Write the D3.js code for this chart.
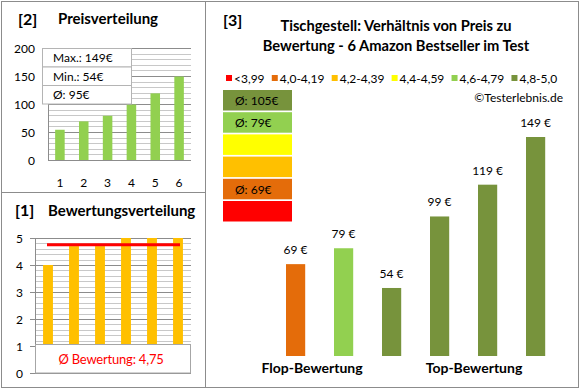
<!DOCTYPE html>
<html><head><meta charset="utf-8">
<script src="https://cdn.jsdelivr.net/npm/d3@7"></script>
<style>body{margin:0;background:#fff}svg{display:block}text{font-family:Lato,"Open Sans",sans-serif}</style>
</head><body><svg id="c" width="580" height="390"></svg>
<script>
// ---- data ----
const productIds = ["1","2","3","4","5","6"];
const prices = [54,69,79,99,119,149];
const ratings = [4.0,4.7,4.7,5.0,5.0,5.0];
const avgRating = 4.75;
const avgRatingLabel = "Ø Bewertung: 4,75";
const priceTicks = [0,50,100,150,200];
const ratingTicks = [0,1,2,3,4,5];
const priceStats = ["Max.: 149€","Min.: 54€","Ø: 95€"];
const mainProducts = ["P1","P2","P3","P4","P5","P6"];
const mainPrices = [69,79,54,99,119,149];
const mainColors = ["#E46C0A","#92D050","#77933C","#77933C","#77933C","#77933C"];
const legendLabels = ["<3,99","4,0-4,19","4,2-4,39","4,4-4,59","4,6-4,79","4,8-5,0"];
const legendColors = ["#FF0000","#E46C0A","#FFC000","#FFFF00","#92D050","#77933C"];
const avgBoxLabels = ["","Ø: 69€","","","Ø: 79€","Ø: 105€"]; // same order as legend
const groupLabels = ["Flop-Bewertung","Top-Bewertung"];
const titles = ["[2]","Preisverteilung","[1]","Bewertungsverteilung","[3]"];
const mainTitle = ["Tischgestell: Verhältnis von Preis zu","Bewertung - 6 Amazon Bestseller im Test"];
const copyright = "©Testerlebnis.de";

const svg = d3.select("#c");
const frame = "#8c8c8c";

// frames
svg.append("rect").attr("x",1.5).attr("y",1.5).attr("width",204).attr("height",386).attr("fill","none").attr("stroke",frame);
svg.append("line").attr("x1",1.5).attr("x2",205.5).attr("y1",192.5).attr("y2",192.5).attr("stroke",frame);
svg.append("rect").attr("x",205.5).attr("y",1.5).attr("width",373).attr("height",386).attr("fill","none").attr("stroke",frame);

// ---------- Panel 2: Preisverteilung ----------
svg.append("text").attr("x",18).attr("y",25).attr("font-size",16).attr("font-weight","bold").text(titles[0]);
svg.append("text").attr("x",58).attr("y",24).attr("font-size",15).attr("font-weight","bold").text(titles[1]);

const x2 = d3.scaleBand().domain(productIds).range([48,191]).paddingInner(0.6).paddingOuter(0.3);
const y2 = d3.scaleLinear().domain([0,200]).range([160,48]);
const g2 = svg.append("g");
g2.selectAll("line.minor").data(y2.ticks(20)).join("line")
  .attr("x1",48).attr("x2",191).attr("y1",d=>Math.round(y2(d))+0.5).attr("y2",d=>Math.round(y2(d))+0.5)
  .attr("stroke",d=>d%50===0?"#8c8c8c":"#c8c8c8");
g2.append("line").attr("x1",48.5).attr("x2",48.5).attr("y1",48).attr("y2",160.5).attr("stroke","#8c8c8c");
g2.selectAll("rect.bar").data(prices).join("rect")
  .attr("x",(d,i)=>x2(productIds[i])).attr("width",x2.bandwidth())
  .attr("y",d=>y2(d)).attr("height",d=>y2(0)-y2(d)).attr("fill","#92D050");
g2.selectAll("text.yt").data(priceTicks).join("text")
  .attr("x",35).attr("y",d=>y2(d)+4.5).attr("text-anchor","end").attr("font-size",12).text(d=>d);
g2.selectAll("text.xt").data(productIds).join("text")
  .attr("x",d=>x2(d)+x2.bandwidth()/2).attr("y",187).attr("text-anchor","middle").attr("font-size",12).text(d=>d);
// stats box
const sb = g2.append("g");
sb.selectAll("rect").data(priceStats).join("rect")
  .attr("x",42.5).attr("y",(d,i)=>48.5+i*18.5).attr("width",89).attr("height",18.5)
  .attr("fill","#fff").attr("stroke","#b4b4b4");
sb.selectAll("text").data(priceStats).join("text")
  .attr("x",53).attr("y",(d,i)=>62+i*18.5).attr("font-size",12).text(d=>d);

// ---------- Panel 1: Bewertungsverteilung ----------
svg.append("text").attr("x",15).attr("y",216).attr("font-size",16).attr("font-weight","bold").text(titles[2]);
svg.append("text").attr("x",48).attr("y",216).attr("font-size",15).attr("font-weight","bold").text(titles[3]);

const x1 = d3.scaleBand().domain(productIds).range([35,191]).paddingInner(0.62).paddingOuter(0.31);
const y1 = d3.scaleLinear().domain([0,5]).range([373,238]);
const g1 = svg.append("g");
const isInt = d=>Math.abs(d-Math.round(d))<1e-6;
g1.selectAll("line.minor").data(y1.ticks(25)).join("line")
  .attr("x1",d=>isInt(d)?30:35).attr("x2",191)
  .attr("y1",d=>Math.round(y1(d))+0.5).attr("y2",d=>Math.round(y1(d))+0.5)
  .attr("stroke",d=>isInt(d)?"#8c8c8c":"#c8c8c8");
g1.append("line").attr("x1",35.5).attr("x2",35.5).attr("y1",238).attr("y2",373.5).attr("stroke","#8c8c8c");
g1.selectAll("rect.bar").data(ratings).join("rect")
  .attr("x",(d,i)=>x1(productIds[i])).attr("width",x1.bandwidth())
  .attr("y",d=>y1(d)).attr("height",d=>y1(0)-y1(d)).attr("fill","#FFC000");
g1.append("line").attr("x1",x1(productIds[0])+x1.bandwidth()/2-1).attr("x2",x1(productIds[5])+x1.bandwidth()/2+2)
  .attr("y1",y1(avgRating)).attr("y2",y1(avgRating)).attr("stroke","#FF0000").attr("stroke-width",3);
g1.selectAll("text.yt").data(ratingTicks).join("text")
  .attr("x",23).attr("y",d=>y1(d)+4.5).attr("text-anchor","end").attr("font-size",12).text(d=>d);
g1.append("rect").attr("x",35.5).attr("y",344.5).attr("width",155).attr("height",28.5).attr("fill","#fff").attr("stroke","#a6a6a6");
g1.append("text").attr("x",111).attr("y",364).attr("text-anchor","middle").attr("font-size",13).attr("letter-spacing",-0.2).attr("fill","#FF0000").text(avgRatingLabel);

// ---------- Panel 3 ----------
svg.append("text").attr("x",223).attr("y",26).attr("font-size",16).attr("font-weight","bold").text(titles[4]);
svg.selectAll("text.mt").data(mainTitle).join("text")
  .attr("x",396).attr("y",(d,i)=>31+i*19.5).attr("text-anchor","middle").attr("font-size",14.7).attr("font-weight","bold").text(d=>d);

// legend row
const lg = svg.append("g");
let lx = 226;
legendLabels.forEach((lab,i)=>{
  lg.append("rect").attr("x",lx).attr("y",75).attr("width",6).attr("height",6).attr("fill",legendColors[i]);
  const t = lg.append("text").attr("x",lx+8).attr("y",83).attr("font-size",12).text(lab);
  lx += 8 + t.node().getComputedTextLength() + 7.2;
});
svg.append("text").attr("x",563).attr("y",102).attr("text-anchor","end").attr("font-size",12).text(copyright);

// average boxes (top: best rating)
const boxOrder = d3.range(legendColors.length).reverse();
const bg = svg.append("g");
boxOrder.forEach((ci,row)=>{
  bg.append("rect").attr("x",223).attr("y",90+row*22.2).attr("width",69).attr("height",20.5).attr("fill",legendColors[ci]);
  if (avgBoxLabels[ci]) bg.append("text").attr("x",235).attr("y",90+row*22.2+15).attr("font-size",12).text(avgBoxLabels[ci]);
});

const x3 = d3.scaleBand().domain(mainProducts).range([271.6,559.6]).paddingInner(0.6).paddingOuter(0.3);
const y3 = d3.scaleLinear().domain([11.2,149]).range([356,137]);
const g3 = svg.append("g");
g3.selectAll("rect").data(mainPrices).join("rect")
  .attr("x",(d,i)=>x3(mainProducts[i])).attr("width",x3.bandwidth())
  .attr("y",d=>y3(d)).attr("height",d=>y3(11.2)-y3(d)).attr("fill",(d,i)=>mainColors[i]);
g3.selectAll("text").data(mainPrices).join("text")
  .attr("x",(d,i)=>x3(mainProducts[i])+x3.bandwidth()/2).attr("y",d=>y3(d)-10)
  .attr("text-anchor","middle").attr("font-size",12).text(d=>d+" €");
svg.append("text").attr("x",312).attr("y",373).attr("text-anchor","middle").attr("font-size",14).attr("font-weight","bold").text(groupLabels[0]);
svg.append("text").attr("x",474).attr("y",373).attr("text-anchor","middle").attr("font-size",14).attr("font-weight","bold").text(groupLabels[1]);
</script></body></html>
